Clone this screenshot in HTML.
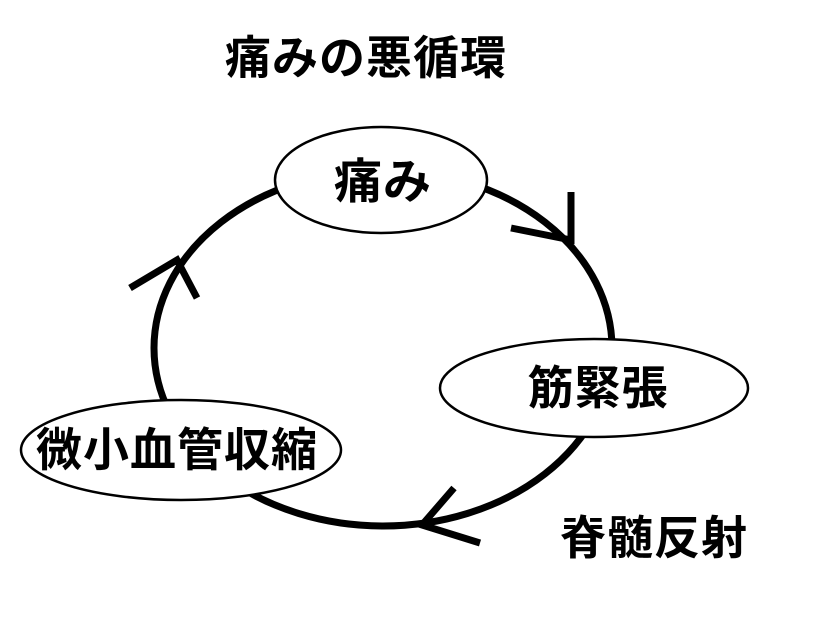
<!DOCTYPE html>
<html><head><meta charset="utf-8"><style>
html,body{margin:0;padding:0;background:#fff;}
svg{display:block;}
text{font-family:"Liberation Sans","Noto Sans CJK JP",sans-serif;font-weight:bold;fill:#000;}
</style></head><body>
<svg width="818" height="621" viewBox="0 0 818 621" xmlns="http://www.w3.org/2000/svg">
<rect width="818" height="621" fill="#fff"/>
<text x="366" y="74" font-size="46" letter-spacing="1" text-anchor="middle">痛みの悪循環</text>
<ellipse cx="383" cy="348" rx="229" ry="178" fill="none" stroke="#000" stroke-width="7"/>
<g stroke="#000" stroke-width="7" fill="none" stroke-linecap="butt">
<polyline points="511,228 571,240 571,192"/>
<polyline points="130,288 177,260 197,298"/>
<polyline points="454,488 422,525 480,543"/>
</g>
<ellipse cx="381" cy="180" rx="106" ry="53" fill="#fff" stroke="#000" stroke-width="2.5"/>
<ellipse cx="594" cy="388" rx="154" ry="49" fill="#fff" stroke="#000" stroke-width="2.5"/>
<ellipse cx="181" cy="450" rx="160" ry="50" fill="#fff" stroke="#000" stroke-width="2.5"/>
<text x="383" y="198" font-size="48" letter-spacing="1" text-anchor="middle">痛み</text>
<text x="598" y="404" font-size="46" letter-spacing="1" text-anchor="middle">筋緊張</text>
<text x="177" y="466" font-size="46" letter-spacing="1" text-anchor="middle">微小血管収縮</text>
<text x="654" y="554" font-size="46" letter-spacing="1" text-anchor="middle">脊髄反射</text>
</svg>
</body></html>
